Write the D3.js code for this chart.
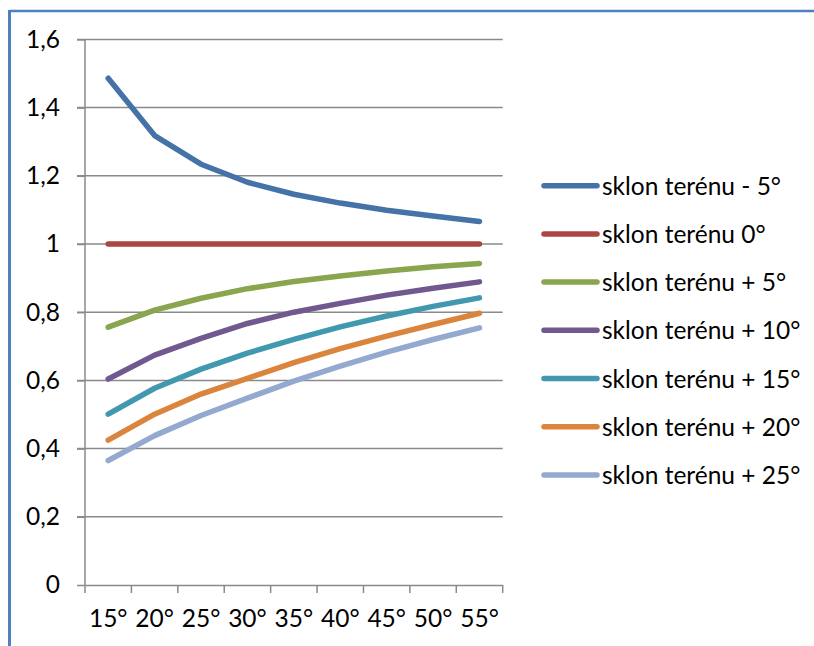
<!DOCTYPE html>
<html><head><meta charset="utf-8">
<script src="https://cdn.jsdelivr.net/npm/d3@7"></script>
<style>html,body{margin:0;padding:0;background:#fff;}</style>
</head><body>
<svg id="c" width="814" height="646"></svg>
<script>
const categories = ["15°","20°","25°","30°","35°","40°","45°","50°","55°"];
const seriesNames = ["sklon terénu - 5°","sklon terénu 0°","sklon terénu + 5°","sklon terénu + 10°","sklon terénu + 15°","sklon terénu + 20°","sklon terénu + 25°"];
const sMinus5 = [1.486,1.318,1.234,1.181,1.146,1.120,1.099,1.082,1.066];
const s0      = [1,1,1,1,1,1,1,1,1];
const sPlus5  = [0.756,0.806,0.841,0.869,0.890,0.906,0.921,0.933,0.943];
const sPlus10 = [0.604,0.674,0.723,0.767,0.800,0.826,0.850,0.870,0.889];
const sPlus15 = [0.501,0.577,0.633,0.680,0.720,0.757,0.789,0.817,0.842];
const sPlus20 = [0.425,0.501,0.560,0.606,0.652,0.693,0.730,0.764,0.797];
const sPlus25 = [0.365,0.438,0.497,0.548,0.598,0.642,0.683,0.720,0.754];
const yTicks = [0,0.2,0.4,0.6,0.8,1,1.2,1.4,1.6];
const colors = ["#4572A7","#AA4643","#89A54E","#71588F","#4198AF","#DB843D","#93A9CF"];
const allSeries = [sMinus5,s0,sPlus5,sPlus10,sPlus15,sPlus20,sPlus25];

const svg = d3.select("#c");
const font = "Lato, 'Open Sans', sans-serif";
const fs = 24.5;
// frame
svg.append("line").attr("x1",9.5).attr("x2",814).attr("y1",11).attr("y2",11).attr("stroke","#4F81BD").attr("stroke-width",2.5);
svg.append("line").attr("x1",9.5).attr("x2",9.5).attr("y1",10).attr("y2",646).attr("stroke","#4F81BD").attr("stroke-width",3);

const x = d3.scaleBand().domain(categories).range([85,502.7]);
const y = d3.scaleLinear().domain([0,1.6]).range([585,39.4]);
const grid = "#8a8a8a";

// gridlines
svg.append("g").selectAll("line").data(yTicks.filter(d=>d>0)).join("line")
  .attr("x1",77).attr("x2",502.7).attr("y1",d=>y(d)).attr("y2",d=>y(d))
  .attr("stroke",grid).attr("stroke-width",1.5);

// y axis
const ya = svg.append("g").attr("transform","translate(85,0)")
  .call(d3.axisLeft(y).tickValues(yTicks).tickSize(8).tickPadding(17).tickFormat(d=>d3.format(".1f")(d).replace(/\.0$/,"").replace(".",",")));
ya.select(".domain").remove();
ya.selectAll(".tick line").attr("stroke",grid).attr("stroke-width",1.5);
ya.selectAll("text").attr("font-family",font).attr("font-size",fs).attr("fill","#000");
svg.append("line").attr("x1",85).attr("x2",85).attr("y1",39.4).attr("y2",585).attr("stroke",grid).attr("stroke-width",1.5);

// x axis
const xa = svg.append("g").attr("transform","translate(0,585)")
  .call(d3.axisBottom(x).tickSize(0).tickPadding(25));
xa.select(".domain").attr("stroke",grid).attr("stroke-width",1.5);
xa.selectAll("text").attr("font-family",font).attr("font-size",fs).attr("fill","#000");
svg.append("g").selectAll("line").data(categories.concat(["end"])).join("line")
  .attr("x1",(d,i)=>i<categories.length? x(d): x.range()[1]).attr("x2",(d,i)=>i<categories.length? x(d): x.range()[1])
  .attr("y1",585).attr("y2",593).attr("stroke",grid).attr("stroke-width",1.5);

// lines
const line = d3.line().x((d,i)=>x(categories[i])+x.bandwidth()/2).y(d=>y(d));
svg.append("g").selectAll("path").data(allSeries).join("path")
  .attr("d",line).attr("fill","none").attr("stroke",(d,i)=>colors[i])
  .attr("stroke-width",5.5).attr("stroke-linecap","round").attr("stroke-linejoin","round");

// legend
const lg = svg.append("g").selectAll("g").data(seriesNames).join("g")
  .attr("transform",(d,i)=>`translate(0,${185.7+i*48.2})`);
lg.append("line").attr("x1",544).attr("x2",597).attr("stroke",(d,i)=>colors[i]).attr("stroke-width",5.5).attr("stroke-linecap","round");
lg.append("text").attr("x",602).attr("y",9).text(d=>d).attr("font-family",font).attr("font-size",fs).attr("fill","#000");
</script>
</body></html>
